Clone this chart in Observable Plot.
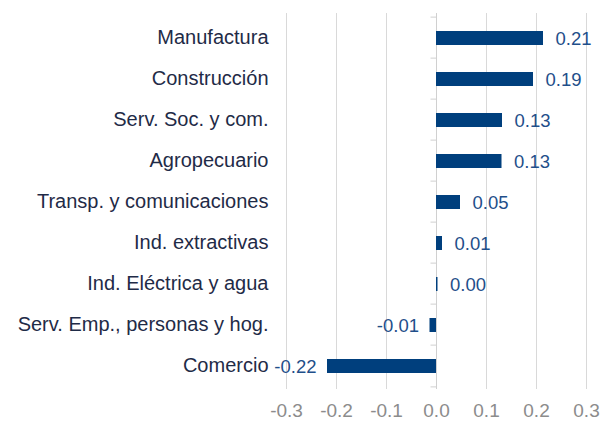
<!DOCTYPE html>
<html>
<head>
<meta charset="utf-8">
<script src="https://cdn.jsdelivr.net/npm/d3@7"></script>
<script src="https://cdn.jsdelivr.net/npm/@observablehq/plot@0.6"></script>
<style>
  html, body { margin: 0; padding: 0; background: #fff; }
</style>
</head>
<body>
<div id="chart"></div>
<script>
const categories = [
  "Manufactura",
  "Construcción",
  "Serv. Soc. y com.",
  "Agropecuario",
  "Transp. y comunicaciones",
  "Ind. extractivas",
  "Ind. Eléctrica y agua",
  "Serv. Emp., personas y hog.",
  "Comercio"
];
const values = [0.214, 0.194, 0.132, 0.131, 0.048, 0.012, 0.003, -0.013, -0.218];
const valueLabels = ["0.21", "0.19", "0.13", "0.13", "0.05", "0.01", "0.00", "-0.01", "-0.22"];
const xTicks = [-0.3, -0.2, -0.1, 0.0, 0.1, 0.2, 0.3];

const data = categories.map((c, i) => ({cat: c, value: values[i], label: valueLabels[i]}));

const W = 601, H = 421;
const mTop = 13, mBottom = 32;
const step = (H - mTop - mBottom) / categories.length;

const chart = Plot.plot({
  width: W,
  height: H,
  marginLeft: 286,
  marginRight: 15,
  marginTop: mTop,
  marginBottom: mBottom,
  style: {fontFamily: "'Liberation Sans', Arial, sans-serif", fontSize: "18px", background: "#fff"},
  x: {domain: [-0.3, 0.3], ticks: xTicks, tickFormat: d => d.toFixed(1), label: null},
  y: {domain: categories, padding: 0, label: null},
  marks: [
    Plot.gridX(xTicks, {stroke: "#d9d9d9", strokeOpacity: 1, strokeWidth: 1}),
    Plot.axisX({ticks: xTicks, tickFormat: d => d.toFixed(1), tickSize: 0, tickPadding: 14, color: "#8c8c8c", fontSize: 19, label: null}),
    Plot.axisY({tickSize: 0, tickPadding: 18, color: "#1f2b47", fontSize: 20, label: null}),
    Plot.ruleX([0], {stroke: "#d0d0d0"}),
    Plot.ruleY(categories, {y: d => d, x1: -0.011, x2: 0, stroke: "#d0d0d0", dy: -step / 2}),
    Plot.ruleY([categories[categories.length - 1]], {y: d => d, x1: -0.011, x2: 0, stroke: "#d0d0d0", dy: step / 2}),
    Plot.barX(data, {y: "cat", x: "value", fill: "#003f7d", insetTop: 14, insetBottom: 13}),
    Plot.text(data.filter(d => d.value >= 0), {y: "cat", x: "value", text: "label", dx: 12, dy: 1, textAnchor: "start", fill: "#1f4f8a", fontSize: 18.5}),
    Plot.text(data.filter(d => d.value < 0), {y: "cat", x: "value", text: "label", dx: -11, dy: 1, textAnchor: "end", fill: "#1f4f8a", fontSize: 18.5})
  ]
});
document.getElementById("chart").appendChild(chart);
</script>
</body>
</html>
